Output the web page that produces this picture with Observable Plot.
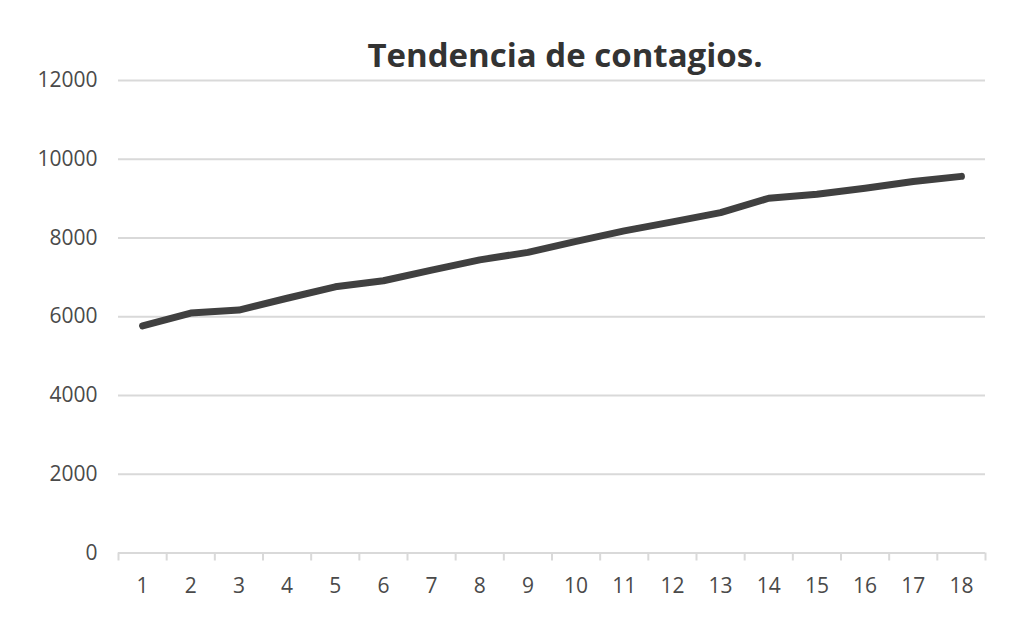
<!DOCTYPE html>
<html>
<head>
<meta charset="utf-8">
<script src="https://cdn.jsdelivr.net/npm/d3@7"></script>
<script src="https://cdn.jsdelivr.net/npm/@observablehq/plot@0.6"></script>
<style>
  html, body { margin: 0; padding: 0; background: #fff; }
  #wrap { position: relative; width: 1024px; height: 624px; overflow: hidden; }
  #title {
    position: absolute; top: 38px; left: 315px; width: 500px;
    text-align: center; font-family: "Open Sans", Lato, sans-serif; font-weight: 700;
    font-size: 33px; line-height: 33px; color: #333333; white-space: nowrap;
    z-index: 2;
  }
  #chart { position: absolute; top: 0; left: 0; }
</style>
</head>
<body>
<div id="wrap">
  <div id="chart"></div>
  <div id="title">Tendencia de contagios.</div>
</div>
<script>
const days = [1, 2, 3, 4, 5, 6, 7, 8, 9, 10, 11, 12, 13, 14, 15, 16, 17, 18];
const cases = [5770, 6095, 6170, 6470, 6760, 6915, 7185, 7445, 7635, 7915, 8180, 8410, 8645, 9010, 9110, 9265, 9435, 9565];
const yTicks = [0, 2000, 4000, 6000, 8000, 10000, 12000];
const seriesName = "Contagios";

const data = days.map((d, i) => ({day: d, value: cases[i], series: seriesName}));
const boundaries = [days[0] - 0.5, ...days.map(d => d + 0.5)];

const tickFont = '"Open Sans", sans-serif';

const plot = Plot.plot({
  width: 1024,
  height: 624,
  marginTop: 80,
  marginBottom: 71.5,
  marginLeft: 118,
  marginRight: 39,
  style: {fontFamily: tickFont, background: "#fff"},
  x: {type: "linear", domain: [days[0] - 0.5, days[days.length - 1] + 0.5]},
  y: {domain: [0, 12000]},
  marks: [
    Plot.gridY(yTicks.filter(t => t > 0), {stroke: "#d9d9d9", strokeOpacity: 1, strokeWidth: 2}),
    Plot.ruleY([0], {stroke: "#d9d9d9", strokeWidth: 2}),
    Plot.axisX({ticks: boundaries, tickSize: 8, tickFormat: () => "", stroke: "#d9d9d9", strokeWidth: 2, label: null}),
    Plot.axisX({ticks: days, tickSize: 0, tickPadding: 25, tickFormat: d => String(d), fontSize: 21, fill: "#4a4a4a", label: null}),
    Plot.axisY({ticks: yTicks, tickSize: 0, tickPadding: 21, tickFormat: d => String(d), fontSize: 21, fill: "#4a4a4a", label: null}),
    Plot.line(data, {x: "day", y: "value", stroke: "#404040", strokeWidth: 7, strokeLinecap: "round", strokeLinejoin: "round"})
  ]
});
document.getElementById("chart").appendChild(plot);
</script>
</body>
</html>
